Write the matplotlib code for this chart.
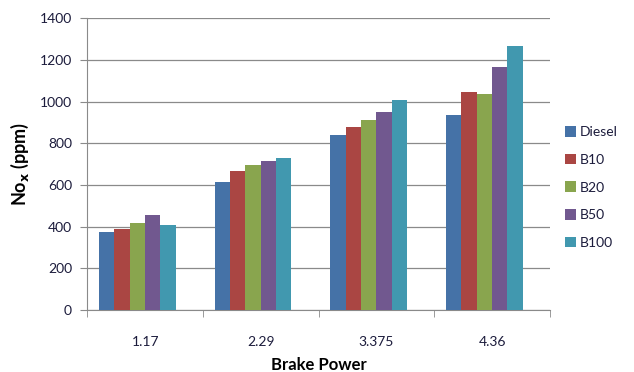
import numpy as np
import matplotlib
matplotlib.use("Agg")
import matplotlib.pyplot as plt

plt.rcParams['font.family'] = ['Lato', 'DejaVu Sans']

# NOx emission by brake power for each fuel blend
brake_power = ['1.17', '2.29', '3.375', '4.36']
fuels = ['Diesel', 'B10', 'B20', 'B50', 'B100']
diesel = [376, 616, 840, 936]
b10 = [390, 667, 878, 1045]
b20 = [416, 698, 910, 1038]
b50 = [456, 714, 949, 1165]
b100 = [408, 728, 1006, 1267]
series = [diesel, b10, b20, b50, b100]
colors = ['#4572A7', '#AA4643', '#89A54E', '#71588F', '#4198AF']

fig = plt.figure(figsize=(6.34, 3.72), dpi=100)
ax = fig.add_axes([0.1377, 0.1667, 0.8675 - 0.1377, 0.9508 - 0.1667])

x = np.arange(len(brake_power))
width = 0.133
start = -0.4 + width / 2
for i, (vals, name, c) in enumerate(zip(series, fuels, colors)):
    ax.bar(x + start + i * width, vals, width, color=c, label=name, zorder=3)

ax.set_xlim(-0.5, len(brake_power) - 0.5)
ax.set_ylim(0, 1400)
ax.set_yticks(np.arange(0, 1401, 200))
ax.yaxis.grid(True, color='#8a8a8a', linewidth=0.9, zorder=0)

ax.set_xticks(x)
ax.set_xticklabels(brake_power)
ax.set_xticks(np.arange(-0.5, len(brake_power)), minor=True)
ax.tick_params(axis='x', which='major', length=0, pad=19)
ax.tick_params(axis='x', which='minor', length=5, color='#8a8a8a', direction='out')
ax.tick_params(axis='y', length=5, color='#8a8a8a', pad=6)
ax.tick_params(labelsize=10, labelcolor='#1c1c3c')

for s in ['top', 'right']:
    ax.spines[s].set_visible(False)
for s in ['left', 'bottom']:
    ax.spines[s].set_color('#8a8a8a')

ax.set_ylabel(r'No$_\mathbf{x}$ (ppm)', fontsize=13, fontweight='bold', labelpad=6)
ax.set_xlabel('Brake Power', fontsize=12, fontweight='bold', labelpad=6)

ax.legend(loc='center left', bbox_to_anchor=(1.02, 0.42), frameon=False,
          fontsize=10, handlelength=0.8, handleheight=0.8, handletextpad=0.3,
          labelspacing=1.12, labelcolor='#1c1c3c', borderaxespad=0)

fig.savefig('out.png', dpi=100)
